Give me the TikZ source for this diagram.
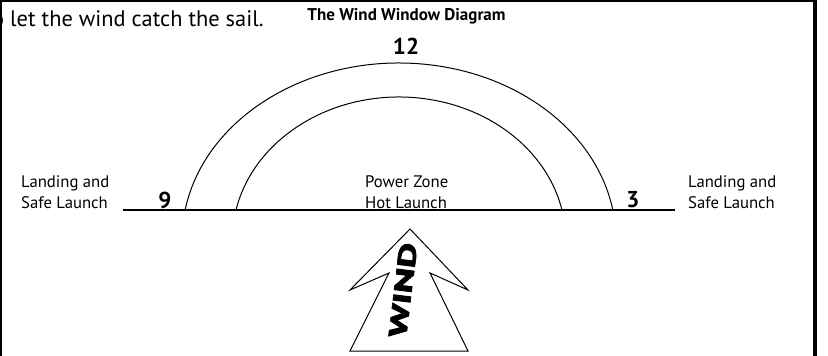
\documentclass[tikz,border=0pt]{standalone}
\usepackage{fontspec}
\setmainfont{PT Sans}
\newfontfamily\windfont[BoldFeatures={FakeBold=2.5}]{PT Sans}
\tikzset{
  lbl/.style={anchor=base west, inner sep=0pt, font=\fontsize{16.7}{19}\selectfont},
  num/.style={inner sep=0pt, font=\bfseries\fontsize{23}{24}\selectfont},
  frame/.style={draw=black},
  arcline/.style={draw=black, line width=1pt},
}
\begin{document}
\begin{tikzpicture}[x=1pt,y=-1pt]
\useasboundingbox (0,0) rectangle (828,356);
% frame
\draw[frame, line width=2.5pt] (0,1.2) -- (816,1.2);
\draw[frame, line width=2pt] (1,0) -- (1,356);
\draw[frame, line width=4pt] (815,0) -- (815,356);
% texts
\node[anchor=base west, inner sep=0pt, font=\fontsize{22.4}{26}\selectfont] (intro) at (-8,27) {o let the wind catch the sail.};
\node[inner sep=0pt, font=\bfseries\fontsize{17}{19}\selectfont] (title) at (406.5,16) {The Wind Window Diagram};
\node[num] (n12) at (406,46) {12};
\node[num] (n9) at (165,200) {9};
\node[num] (n3) at (633,200) {3};
\node[lbl] (l1) at (21,187) {Landing and};
\node[lbl] (l2) at (21,208) {Safe Launch};
\node[lbl] (p1) at (365,187) {Power Zone};
\node[lbl] (p2) at (365,208) {Hot Launch};
\node[lbl] (r1) at (688,187) {Landing and};
\node[lbl] (r2) at (688,208) {Safe Launch};
% baseline
\draw[line width=1.2pt] (123,210) -- (675,210);
% arcs
\draw[arcline] (185.1,210) arc[start angle=189.76, end angle=350.24, x radius=217, y radius=177];
\draw[arcline] (236,210) arc[start angle=192.11, end angle=347.89, x radius=166.7, y radius=143];
% wind arrow
\draw[line width=1pt, line join=miter] (410,229) -- (468,290) -- (430,273) -- (468,351) -- (350,351) -- (389,273) -- (350,290) -- cycle;
\node[inner sep=0pt, rotate=83, font=\windfont\bfseries\fontsize{25}{25}\selectfont] (wind) at (403,290) {\scalebox{1.55}[1]{WIND}};
\end{tikzpicture}
\end{document}
